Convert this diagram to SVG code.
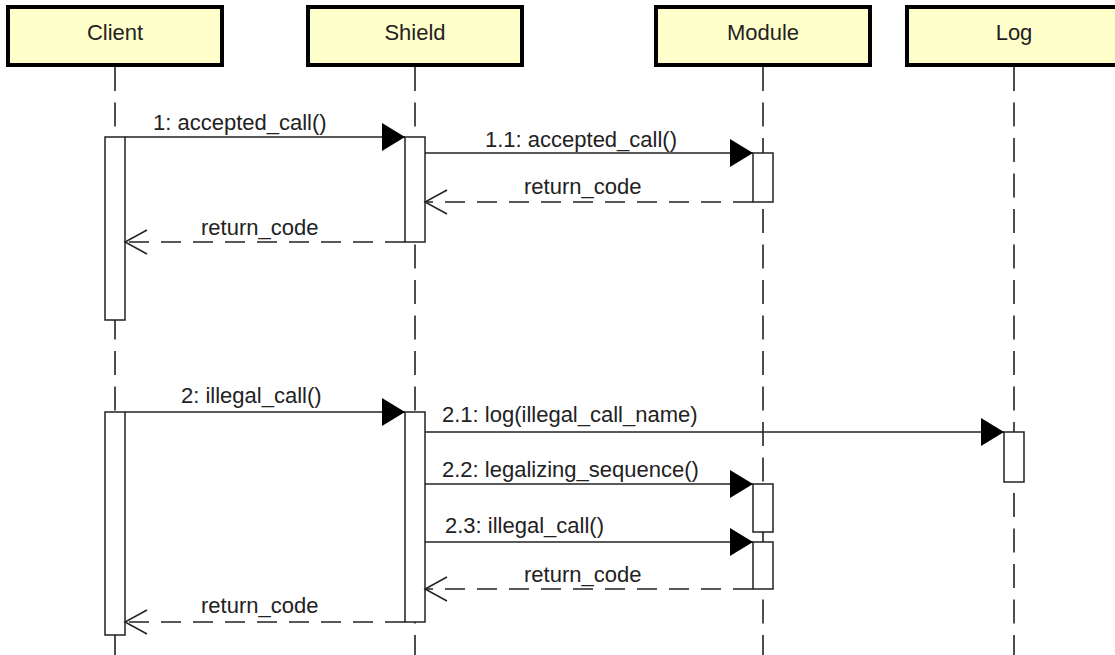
<svg xmlns="http://www.w3.org/2000/svg" width="1115" height="655" viewBox="0 0 1115 655">
<style>
.box{fill:#ffffcc;stroke:#000;stroke-width:4}
.t{font-family:"Liberation Sans",Arial,sans-serif;font-size:22px;fill:#222}
.life{stroke:#222;stroke-width:1.6;stroke-dasharray:24 11.5;fill:none}
.act{fill:#fff;stroke:#222;stroke-width:1.5}
.msg{stroke:#222;stroke-width:1.5;fill:none;marker-end:url(#filled)}
.ret{stroke:#222;stroke-width:1.5;fill:none;stroke-dasharray:20 12;marker-end:url(#open)}
</style>
<defs>
<marker id="filled" markerUnits="userSpaceOnUse" markerWidth="24" markerHeight="30" viewBox="0 0 24 30" refX="23" refY="15" orient="auto">
<path d="M0,1 L23,15 L0,29 Z" fill="#000"/>
</marker>
<marker id="open" markerUnits="userSpaceOnUse" markerWidth="26" markerHeight="30" viewBox="0 0 26 30" refX="24" refY="15" orient="auto">
<path d="M2,3 L24,15 L2,27" fill="none" stroke="#222" stroke-width="1.5"/>
</marker>
</defs>
<rect width="1115" height="655" fill="#fff"/>
<g id="lifelines">
<line class="life" x1="115" y1="67" x2="115" y2="655"/>
<line class="life" x1="415" y1="67" x2="415" y2="655"/>
<line class="life" x1="763" y1="67" x2="763" y2="655"/>
<line class="life" x1="1014" y1="67" x2="1014" y2="655"/>
</g>
<g id="client">
<rect class="box" x="8" y="7" width="214" height="58"/>
<text class="t" x="115" y="40" text-anchor="middle">Client</text>
</g>
<g id="shield">
<rect class="box" x="308" y="7" width="214" height="58"/>
<text class="t" x="415" y="40" text-anchor="middle">Shield</text>
</g>
<g id="module">
<rect class="box" x="656" y="7" width="214" height="58"/>
<text class="t" x="763" y="40" text-anchor="middle">Module</text>
</g>
<g id="log">
<rect class="box" x="907" y="7" width="214" height="58"/>
<text class="t" x="1014" y="40" text-anchor="middle">Log</text>
</g>
<g id="activations">
<rect class="act" x="105" y="137" width="20" height="183"/>
<rect class="act" x="405" y="137" width="20" height="105"/>
<rect class="act" x="753" y="153" width="20" height="49"/>
<rect class="act" x="105" y="412" width="20" height="223"/>
<rect class="act" x="405" y="412" width="20" height="210"/>
<rect class="act" x="1004" y="432" width="20" height="50"/>
<rect class="act" x="753" y="484" width="20" height="48"/>
<rect class="act" x="753" y="542" width="20" height="47"/>
</g>
<g id="connectors">
<line class="msg" x1="125" y1="137" x2="405" y2="137"/>
<text class="t" x="153" y="130">1: accepted_call()</text>
<line class="msg" x1="425" y1="153" x2="753" y2="153"/>
<text class="t" x="485" y="147">1.1: accepted_call()</text>
<line class="ret" x1="753" y1="202" x2="425" y2="202"/>
<text class="t" x="524" y="194">return_code</text>
<line class="ret" x1="405" y1="242" x2="125" y2="242"/>
<text class="t" x="201" y="235">return_code</text>
<line class="msg" x1="125" y1="412" x2="405" y2="412"/>
<text class="t" x="181" y="403">2: illegal_call()</text>
<line class="msg" x1="425" y1="432" x2="1004" y2="432"/>
<text class="t" x="442" y="422">2.1: log(illegal_call_name)</text>
<line class="msg" x1="425" y1="484" x2="753" y2="484"/>
<text class="t" x="442" y="477">2.2: legalizing_sequence()</text>
<line class="msg" x1="425" y1="542" x2="753" y2="542"/>
<text class="t" x="445" y="533">2.3: illegal_call()</text>
<line class="ret" x1="753" y1="589" x2="425" y2="589"/>
<text class="t" x="524" y="582">return_code</text>
<line class="ret" x1="405" y1="622" x2="125" y2="622"/>
<text class="t" x="201" y="613">return_code</text>
</g>
</svg>
